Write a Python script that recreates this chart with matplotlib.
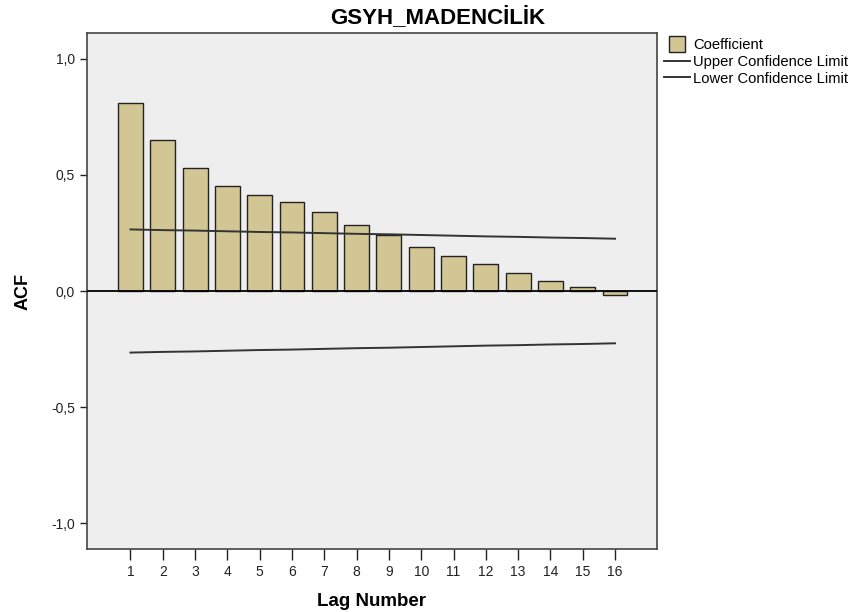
import numpy as np
import matplotlib.pyplot as plt
import matplotlib as mpl
from matplotlib.lines import Line2D
from matplotlib.ticker import FuncFormatter

mpl.rcParams['font.family'] = ['Liberation Sans', 'DejaVu Sans']

title = 'GSYH_MADENCİLİK'
lags = np.arange(1, 17)
acf = [0.808, 0.650, 0.528, 0.453, 0.415, 0.382, 0.340, 0.284,
       0.240, 0.188, 0.152, 0.116, 0.076, 0.044, 0.016, -0.016]
upper = [0.265, 0.262, 0.260, 0.257, 0.254, 0.252, 0.249, 0.246,
         0.244, 0.241, 0.238, 0.235, 0.233, 0.230, 0.228, 0.225]
lower = [-u for u in upper]

fig = plt.figure(figsize=(8.6, 6.12), dpi=100)
ax = fig.add_axes([0.101, 0.103, 0.663, 0.843])
ax.set_facecolor('#eeeeee')

ax.bar(lags, acf, width=0.77, color='#d2c794', edgecolor='#222222',
       linewidth=1.0, zorder=2)
ax.plot(lags, upper, color='#333333', lw=1.4, zorder=3)
ax.plot(lags, lower, color='#333333', lw=1.4, zorder=3)
ax.axhline(0, color='black', lw=1.3, zorder=4)

ax.set_xlim(-0.35, 17.3)
ax.set_ylim(-1.11, 1.11)
ax.set_xticks(lags)
ax.set_yticks([-1.0, -0.5, 0.0, 0.5, 1.0])
ax.yaxis.set_major_formatter(FuncFormatter(lambda v, p: f'{v:.1f}'.replace('.', ',')))
ax.tick_params(axis='y', length=5, width=1, labelsize=10, colors='#222222')
ax.tick_params(axis='x', length=8, width=1, labelsize=10, colors='#222222')
for s in ax.spines.values():
    s.set_color('#444444')
    s.set_linewidth(1.2)

fig.text(0.509, 0.972, title, fontsize=16, fontweight='bold', ha='center', va='center')
ax.set_xlabel('Lag Number', fontsize=13.5, fontweight='bold', labelpad=10)
ax.set_ylabel('ACF', fontsize=13, fontweight='bold', labelpad=14)

handles = [Line2D([], [], marker='s', markersize=11, markerfacecolor='#d2c794',
                  markeredgecolor='#222222', linestyle='none', label='Coefficient'),
           Line2D([], [], color='#333333', lw=1.4, label='Upper Confidence Limit'),
           Line2D([], [], color='#333333', lw=1.4, label='Lower Confidence Limit')]
fig.legend(handles=handles, loc='upper left', bbox_to_anchor=(0.765, 0.948),
           frameon=False, fontsize=10.6, handlelength=1.75, handletextpad=0.25,
           labelspacing=0.2, borderaxespad=0)

fig.savefig('out.png', dpi=100)
